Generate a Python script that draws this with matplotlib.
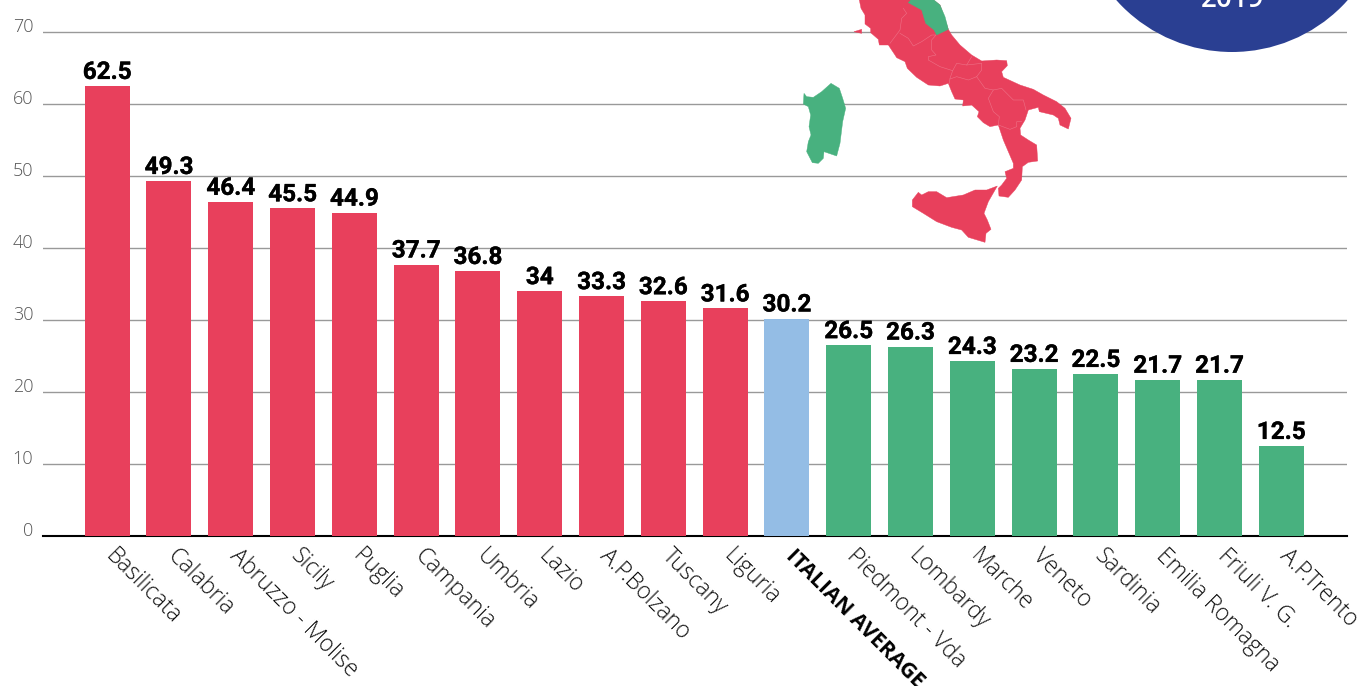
import matplotlib
matplotlib.use("Agg")
import matplotlib.pyplot as plt
from matplotlib.patches import Polygon, Circle
from matplotlib.transforms import ScaledTranslation
import matplotlib.patheffects as pe

regions = ["Basilicata", "Calabria", "Abruzzo - Molise", "Sicily", "Puglia", "Campania", "Umbria",
           "Lazio", "A.P.Bolzano", "Tuscany", "Liguria", "ITALIAN AVERAGE", "Piedmont - Vda",
           "Lombardy", "Marche", "Veneto", "Sardinia", "Emilia Romagna", "Friuli V. G.", "A.P.Trento"]
values = [62.5, 49.3, 46.4, 45.5, 44.9, 37.7, 36.8, 34, 33.3, 32.6, 31.6, 30.2,
          26.5, 26.3, 24.3, 23.2, 22.5, 21.7, 21.7, 12.5]
yticks = [0, 10, 20, 30, 40, 50, 60, 70]
RED, BLUE, GREEN, NAVY = "#E8405C", "#94BDE5", "#48B17F", "#2A3F92"
colors = [RED] * 11 + [BLUE] + [GREEN] * 8

W, H = 1359, 686
fig = plt.figure(figsize=(W / 100, H / 100), dpi=100, facecolor="white")
ax = fig.add_axes([43 / W, (H - 536) / H, (1347 - 43) / W, 536 / H])
ax.set_facecolor("none")
step = 61.79
ax.set_xlim((43 - 107.2) / step, (1347 - 107.2) / step)
ax.set_ylim(0, 536 / 7.2)
ax.set_axisbelow(True)
ax.yaxis.grid(True, color="#999999", lw=1)
ax.xaxis.grid(False)
for s in ["top", "left", "right"]:
    ax.spines[s].set_visible(False)
ax.spines["bottom"].set_linewidth(1.5)
ax.spines["bottom"].set_color("black")

bars = ax.bar(range(len(values)), values, width=45 / step, color=colors, zorder=3)
labels = ax.bar_label(bars, labels=[f"{v:g}" for v in values], padding=1.5, family="Roboto",
                      weight="bold", fontsize=17.5, color="black", zorder=6)
for t in labels:
    t.set_path_effects([pe.withStroke(linewidth=0.25, foreground="black")])

ax.set_yticks(yticks)
ax.tick_params(axis="y", length=0, pad=7, labelsize=13, labelcolor="#555555")
off = ScaledTranslation(0, 7 / 100, fig.dpi_scale_trans)
for lab in ax.get_yticklabels():
    lab.set_family("Open Sans")
    lab.set_fontweight("light")
    lab.set_transform(lab.get_transform() + off)

ax.set_xticks(range(len(regions)))
ax.set_xticklabels(regions)
ax.tick_params(axis="x", length=0, pad=12)
dx = ScaledTranslation(2 / 100, 0, fig.dpi_scale_trans)
for i, lab in enumerate(ax.get_xticklabels()):
    lab.set_family("Open Sans")
    lab.set_fontsize(16.5)
    lab.set_fontweight("light")
    lab.set_rotation(-45)
    lab.set_rotation_mode("anchor")
    lab.set_ha("left")
    lab.set_va("center")
    lab.set_color("#111111")
    lab.set_transform(lab.get_transform() + dx)
    if regions[i] == "ITALIAN AVERAGE":
        lab.set_fontweight("bold")
        lab.set_color("black")
        lab.set_fontsize(15.5)

# decoration overlay in pixel coordinates (map of Italy and round badge)
ov = fig.add_axes([0, 0, 1, 1], zorder=5)
ov.set_xlim(0, W)
ov.set_ylim(H, 0)
ov.axis("off")
ov.patch.set_alpha(0)
ov.add_patch(Circle((1232, -103), 155, color=NAVY, lw=0))
ov.text(1232, 7, "2019", color="white", fontsize=20, family="Open Sans", weight="semibold",
        ha="center", va="baseline")

def z(pts):
    return [(780 + a / 3, b / 3) for a, b in pts]

mainland = [(238,0),(243,25),(255,45),(255,72),(272,85),(272,98),(295,118),(298,135),(325,135),(345,165),
            (350,173),(375,185),(382,205),(410,232),(445,255),(480,258),(505,250),(515,275),(525,297),
            (550,300),(548,318),(575,315),(597,335),(592,350),(610,368),(630,380),(655,375),(670,420),
            (685,455),(700,490),(700,505),(675,515),(680,535),(665,555),(655,565),(657,588),(685,592),
            (705,570),(725,540),(727,500),(745,487),(773,483),(770,435),(745,420),(722,405),(720,385),
            (735,360),(745,330),(775,322),(778,335),(820,345),(835,355),(840,375),(865,387),(873,355),
            (855,325),(830,305),(790,285),(760,268),(720,255),(670,232),(665,215),(682,197),(680,182),
            (650,180),(605,183),(575,165),(540,135),(515,105),(505,88),(480,15),(460,0)]
marche = [(385,8),(392,0),(462,0),(480,15),(495,50),(505,88),(470,105),(462,90),(437,70),(425,30)]
sardinia = [(72,280),(70,312),(85,320),(92,345),(87,380),(93,405),(85,425),(80,455),(97,488),(115,490),
            (130,475),(132,455),(170,468),(180,430),(188,365),(197,325),(188,295),(178,265),(153,250),
            (125,275),(100,292),(80,290)]
sicily = [(397,600),(397,620),(430,640),(470,665),(515,682),(545,690),(565,712),(615,727),(618,700),
          (633,688),(622,660),(612,640),(625,605),(652,558),(620,570),(585,570),(550,585),(500,593),
          (470,575),(445,575),(425,585),(415,577)]
elba = [(222,95),(245,88),(245,100),(235,98)]
for poly, col in [(mainland, RED), (marche, GREEN), (sardinia, GREEN), (sicily, RED), (elba, RED)]:
    ov.add_patch(Polygon(z(poly), closed=True, facecolor=col, edgecolor=col, lw=0.3))

borders = [[(370,25),(380,40),(365,55),(360,90),(330,130)],
           [(360,100),(385,115),(400,138),(425,125),(455,105),(468,105),(455,120),(455,150),(468,165),
            (445,170),(445,180),(480,200),(518,212),(530,190),(560,195),(575,170)],
           [(518,212),(510,235),(508,250)],
           [(560,195),(605,190),(605,210),(590,230),(565,240),(530,230),(510,237)],
           [(590,230),(615,265),(640,270),(665,265),(700,300),(730,300),(738,330)],
           [(640,270),(625,295),(640,335),(658,350),(655,375),(690,388),(710,380),(710,365),(725,365)]]
for b in borders:
    xs, ys = zip(*z(b))
    ov.plot(xs, ys, color="#EE7187", lw=0.4)

fig.savefig("out.png", dpi=100)
